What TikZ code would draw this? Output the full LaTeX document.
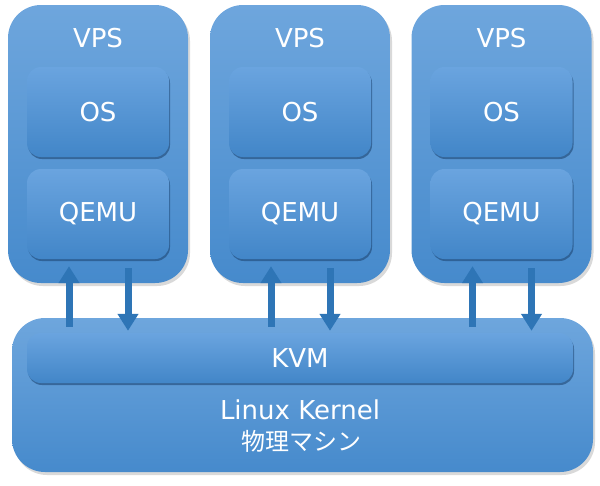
\documentclass[tikz,border=0pt]{standalone}
\usepackage{fontspec}
\setmainfont{DejaVu Sans}
\newfontfamily\jpfont{Noto Sans CJK JP}
\usetikzlibrary{shadows,arrows.meta}
\definecolor{boxtop}{RGB}{110,166,221}
\definecolor{boxbot}{RGB}{70,138,204}
\definecolor{intop}{RGB}{106,164,223}
\definecolor{inbot}{RGB}{66,134,200}
\definecolor{shadeblue}{RGB}{30,70,115}
\definecolor{arrowblue}{RGB}{46,117,182}
\tikzset{
  outerbox/.style={rounded corners=33pt, top color=boxtop, bottom color=boxbot, draw=none,
    drop shadow={opacity=0.3, shadow xshift=2pt, shadow yshift=-3pt}},
  innerbox/.style={rounded corners=14pt, top color=intop, bottom color=inbot, draw=none,
    drop shadow={fill=shadeblue, opacity=0.6, shadow xshift=1pt, shadow yshift=-2pt},
    minimum width=142pt, minimum height=90pt, text=white, font=\fontsize{26}{30}\selectfont},
  lbl/.style={text=white, font=\fontsize{26}{30}\selectfont},
  updown/.style={line width=7pt, color=arrowblue, -{Triangle[width=20pt,length=17pt]}}
}
\begin{document}
\begin{tikzpicture}[x=1pt,y=-1pt]
	\useasboundingbox (0,0) rectangle (600,485);
	
	%Physical machine and kernel
	\node[outerbox, minimum width=581pt, minimum height=154pt] (kernel) at (302.5,395) {};
	\node[innerbox, minimum width=546pt, minimum height=50pt] (kvm) at (300,358) {KVM};
	\node[lbl] (linux) at (300,410) {Linux Kernel};
	\node[lbl, font=\jpfont\fontsize{24}{28}\selectfont] (machine) at (301,441) {物理マシン};
	
	%Three VPS columns
	\foreach \i/\x in {1/98,2/300,3/501.5}{
		\node[outerbox, minimum width=180pt, minimum height=278pt] (vps\i) at (\x,144) {};
		\node[lbl] (vpsname\i) at (\x,38) {VPS};
		\node[innerbox] (os\i) at (\x,112) {OS};
		\node[innerbox] (qemu\i) at (\x,214) {QEMU};
	}
	
	%Traffic between QEMU and KVM
	\foreach \i in {1,2,3}{
		\draw[updown, shorten <=6pt, shorten >=7pt] ([xshift=-29pt]qemu\i.south |- kvm.north) -- ([xshift=-29pt]qemu\i.south);
		\draw[updown, shorten <=9pt, shorten >=2pt] ([xshift=30pt]qemu\i.south) -- ([xshift=30pt]qemu\i.south |- kvm.north);
	}
\end{tikzpicture}
\end{document}
